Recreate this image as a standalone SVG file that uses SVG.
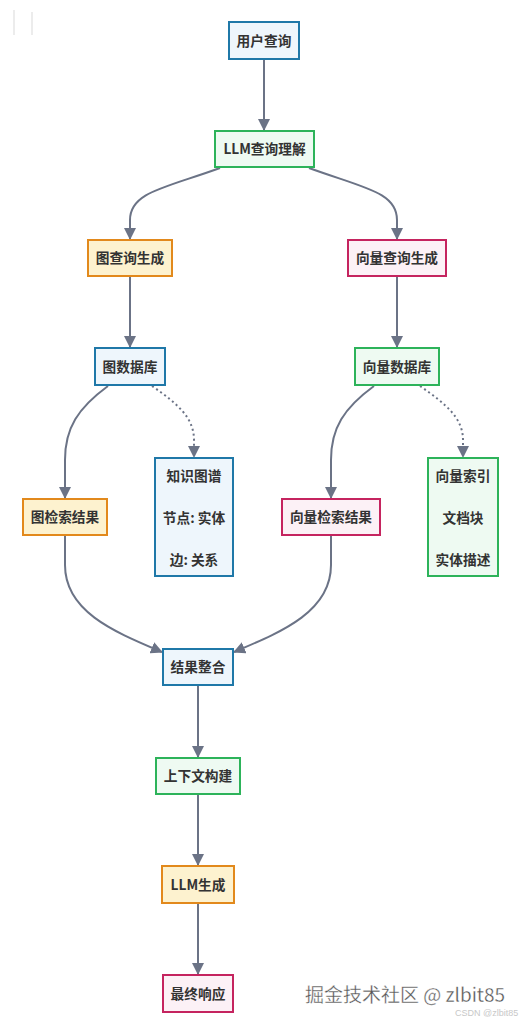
<svg xmlns="http://www.w3.org/2000/svg" width="525" height="1023" viewBox="0 0 525 1023">
<style>
.n rect{stroke-width:2}
.blue rect{fill:#eef6fc;stroke:#1f78a8}
.green rect{fill:#eefaf2;stroke:#2db35a}
.orange rect{fill:#fdf2cf;stroke:#e2891c}
.pink rect{fill:#fcf1f6;stroke:#c5245f}
.n text{font-family:"Noto Sans CJK SC","Liberation Sans",sans-serif;font-size:13.7px;font-weight:bold;fill:#333;text-anchor:middle}
.e path{fill:none;stroke:#6b7386;stroke-width:2}
.e .d{stroke-dasharray:2 3}
</style>
<defs>
<marker id="a" viewBox="0 0 12 12" refX="11" refY="6" markerWidth="12" markerHeight="12" markerUnits="userSpaceOnUse" orient="auto">
<path d="M0,0 L12,6 L0,12 z" fill="#6b7386"/>
</marker>
</defs>
<rect width="525" height="1023" fill="#fff"/>
<line x1="14" y1="10" x2="14" y2="35" stroke="#ececec" stroke-width="2"/>
<line x1="32" y1="12" x2="32" y2="35" stroke="#ececec" stroke-width="2"/>
<g class="e">
<path d="M264,59 L264,130" marker-end="url(#a)"/>
<path d="M220,168 C165,188 130,192 130,220 L130,239" marker-end="url(#a)"/>
<path d="M309,168 C364,188 397,192 397,220 L397,239" marker-end="url(#a)"/>
<path d="M130,276 L130,347" marker-end="url(#a)"/>
<path d="M397,276 L397,347" marker-end="url(#a)"/>
<path d="M108,386 C78,408 65,428 65,460 L65,498" marker-end="url(#a)"/>
<path class="d" d="M152,386 C178,404 194,418 194,440 L194,457" marker-end="url(#a)"/>
<path d="M374,386 C344,408 331,428 331,460 L331,498" marker-end="url(#a)"/>
<path class="d" d="M420,386 C446,404 463,418 463,440 L463,457" marker-end="url(#a)"/>
<path d="M65,535 L65,565 C65,612 115,632 162,652" marker-end="url(#a)"/>
<path d="M331,535 L331,565 C331,612 281,632 234,652" marker-end="url(#a)"/>
<path d="M198,685 L198,757" marker-end="url(#a)"/>
<path d="M198,794 L198,865" marker-end="url(#a)"/>
<path d="M198,903 L198,974" marker-end="url(#a)"/>
</g>
<g id="user" class="n blue"><rect x="229" y="22" width="70" height="37"/><text x="264" y="45.5">用户查询</text></g>
<g id="llmq" class="n green"><rect x="215" y="131" width="99" height="36"/><text x="264.5" y="154">LLM查询理解</text></g>
<g id="gq" class="n orange"><rect x="88" y="240" width="84" height="36"/><text x="130" y="263">图查询生成</text></g>
<g id="vq" class="n pink"><rect x="348" y="240" width="98" height="36"/><text x="397" y="263">向量查询生成</text></g>
<g id="gdb" class="n blue"><rect x="95" y="348" width="70" height="37"/><text x="130" y="371.5">图数据库</text></g>
<g id="vdb" class="n green"><rect x="355" y="348" width="84" height="37"/><text x="397" y="371.5">向量数据库</text></g>
<g id="kg" class="n blue"><rect x="155" y="458" width="78" height="118"/><text x="194" y="481">知识图谱</text><text x="194" y="523">节点: 实体</text><text x="194" y="565">边: 关系</text></g>
<g id="vi" class="n green"><rect x="428" y="458" width="70" height="118"/><text x="463" y="481">向量索引</text><text x="463" y="523">文档块</text><text x="463" y="565">实体描述</text></g>
<g id="gr" class="n orange"><rect x="23" y="499" width="84" height="36"/><text x="65" y="522">图检索结果</text></g>
<g id="vr" class="n pink"><rect x="282" y="499" width="98" height="36"/><text x="331" y="522">向量检索结果</text></g>
<g id="merge" class="n blue"><rect x="163" y="649" width="70" height="36"/><text x="198" y="672">结果整合</text></g>
<g id="ctx" class="n green"><rect x="156" y="758" width="84" height="36"/><text x="198" y="781">上下文构建</text></g>
<g id="llmg" class="n orange"><rect x="162" y="866" width="72" height="37"/><text x="198" y="889.5">LLM生成</text></g>
<g id="final" class="n pink"><rect x="163" y="975" width="70" height="37"/><text x="198" y="998.5">最终响应</text></g>
<text x="305" y="1002" font-family="Noto Sans CJK SC,Liberation Sans,sans-serif" font-size="19" fill="#555" stroke="#fff" stroke-width="0.3">掘金技术社区 @ zlbit85</text>
<text x="455" y="1016" font-family="Liberation Sans,sans-serif" font-size="9" fill="#c8c8c8">CSDN @zlbit85</text>
</svg>
